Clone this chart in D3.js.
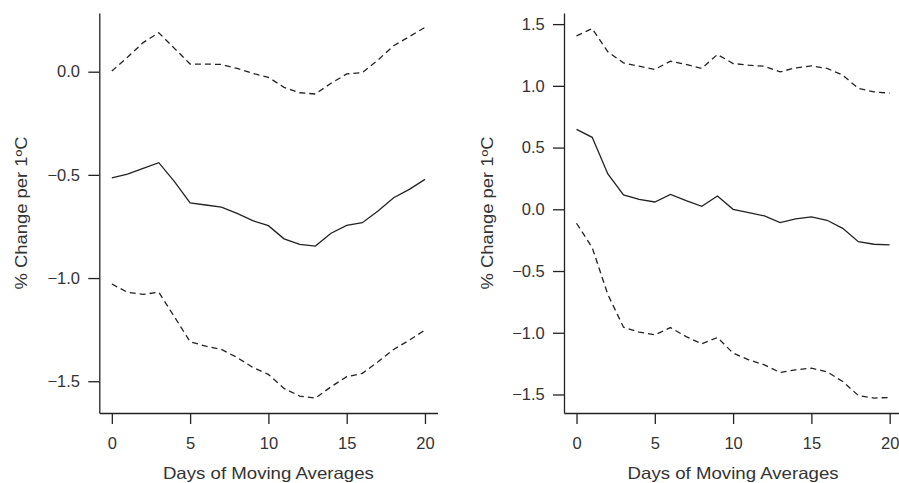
<!DOCTYPE html>
<html>
<head>
<meta charset="utf-8">
<script src="https://cdn.jsdelivr.net/npm/d3@7"></script>
<style>
  body { margin: 0; background: #fff; }
  svg text { font-family: "Liberation Sans", Arial, sans-serif; fill: #333; }
</style>
</head>
<body>
<div id="chart"></div>
<script>
// days of moving averages (x)
const days = d3.range(0, 21);

// left panel: estimate and 95% bounds
const leftEst = [-0.514, -0.496, -0.468, -0.441, -0.533, -0.636, -0.646, -0.656, -0.687, -0.722, -0.746,
    -0.810, -0.837, -0.845, -0.783, -0.745, -0.732, -0.675, -0.611, -0.570, -0.522];
const leftUpper = [0.003, 0.070, 0.141, 0.189, 0.113, 0.037, 0.037, 0.035, 0.016, -0.008, -0.027,
    -0.076, -0.102, -0.108, -0.056, -0.011, -0.005, 0.057, 0.126, 0.170, 0.215];
const leftLower = [-1.029, -1.069, -1.079, -1.069, -1.188, -1.309, -1.330, -1.346, -1.385, -1.433, -1.467,
    -1.535, -1.572, -1.582, -1.527, -1.478, -1.462, -1.406, -1.346, -1.301, -1.252];

// right panel
const rightEst = [0.647, 0.583, 0.286, 0.116, 0.081, 0.059, 0.121, 0.070, 0.024, 0.108, 0.000,
    -0.027, -0.054, -0.108, -0.078, -0.062, -0.089, -0.154, -0.262, -0.283, -0.289];
const rightUpper = [1.405, 1.464, 1.275, 1.186, 1.159, 1.133, 1.200, 1.173, 1.141, 1.254, 1.181,
    1.167, 1.159, 1.113, 1.146, 1.162, 1.141, 1.087, 0.979, 0.951, 0.941];
const rightLower = [-0.113, -0.310, -0.690, -0.955, -0.995, -1.017, -0.958, -1.031, -1.090, -1.039, -1.165,
    -1.219, -1.260, -1.322, -1.300, -1.287, -1.316, -1.395, -1.508, -1.529, -1.524];

// tick values
const xTicks = [0, 5, 10, 15, 20];
const leftYTicks = [0, -0.5, -1, -1.5];
const rightYTicks = [1.5, 1, 0.5, 0, -0.5, -1, -1.5];

const xTitle = "Days of Moving Averages";
const yTitle = "% Change per 1ºC";

const W = 899, H = 483;
const svg = d3.select("#chart").append("svg")
    .attr("width", W)
    .attr("height", H);

const panels = [
    {left: 99.3, right: 437.5, yDomain: [-1.654, 0.2845], yTicks: leftYTicks,
        est: leftEst, upper: leftUpper, lower: leftLower, titleX: 27},
    {left: 564, right: 902.2, yDomain: [-1.65, 1.59], yTicks: rightYTicks,
        est: rightEst, upper: rightUpper, lower: rightLower, titleX: 492.5}
];

const plotTop = 13, plotBottom = 413;

panels.forEach(p => {
    let x = d3.scaleLinear().domain([-0.8, 20.8]).range([p.left, p.right]);
    let y = d3.scaleLinear().domain(p.yDomain).range([plotBottom, plotTop]);
    let fmt = d3.format(".1f");

    // y axis
    let yAxis = svg.append("g")
        .attr("transform", `translate(${p.left},0)`)
        .call(d3.axisLeft(y).tickValues(p.yTicks).tickFormat(fmt)
            .tickSize(11).tickSizeOuter(0).tickPadding(8.3));

    // x axis
    let xAxis = svg.append("g")
        .attr("transform", `translate(0,${plotBottom})`)
        .call(d3.axisBottom(x).tickValues(xTicks).tickFormat(d3.format("d"))
            .tickSize(11).tickSizeOuter(0).tickPadding(13.6));

    [yAxis, xAxis].forEach(g => {
        g.selectAll("path, line").attr("stroke", "#222").attr("stroke-width", 1.3);
        g.selectAll("text").attr("font-size", 16.5).attr("fill", "#333")
            .style("font-family", "'Liberation Sans', Arial, sans-serif");
    });

    // axis titles (reference type is a bit wider than Arial, so stretch to its length)
    svg.append("text")
        .attr("x", (p.left + p.right) / 2)
        .attr("y", 479)
        .attr("text-anchor", "middle")
        .attr("font-size", 16.5)
        .attr("textLength", 211)
        .attr("lengthAdjust", "spacingAndGlyphs")
        .text(xTitle);

    svg.append("text")
        .attr("transform", `translate(${p.titleX},${(plotTop + plotBottom) / 2}) rotate(-90)`)
        .attr("text-anchor", "middle")
        .attr("font-size", 16.5)
        .attr("textLength", 153)
        .attr("lengthAdjust", "spacingAndGlyphs")
        .text(yTitle);

    let line = d3.line().x((d, i) => x(days[i])).y(d => y(d));

    // bounds dashed, estimate solid
    [p.upper, p.lower].forEach(series => {
        svg.append("path")
            .datum(series)
            .attr("d", line)
            .attr("fill", "none")
            .attr("stroke", "#222")
            .attr("stroke-width", 1.3)
            .attr("stroke-dasharray", "6,4");
    });

    svg.append("path")
        .datum(p.est)
        .attr("d", line)
        .attr("fill", "none")
        .attr("stroke", "#222")
        .attr("stroke-width", 1.3);
});
</script>
</body>
</html>
